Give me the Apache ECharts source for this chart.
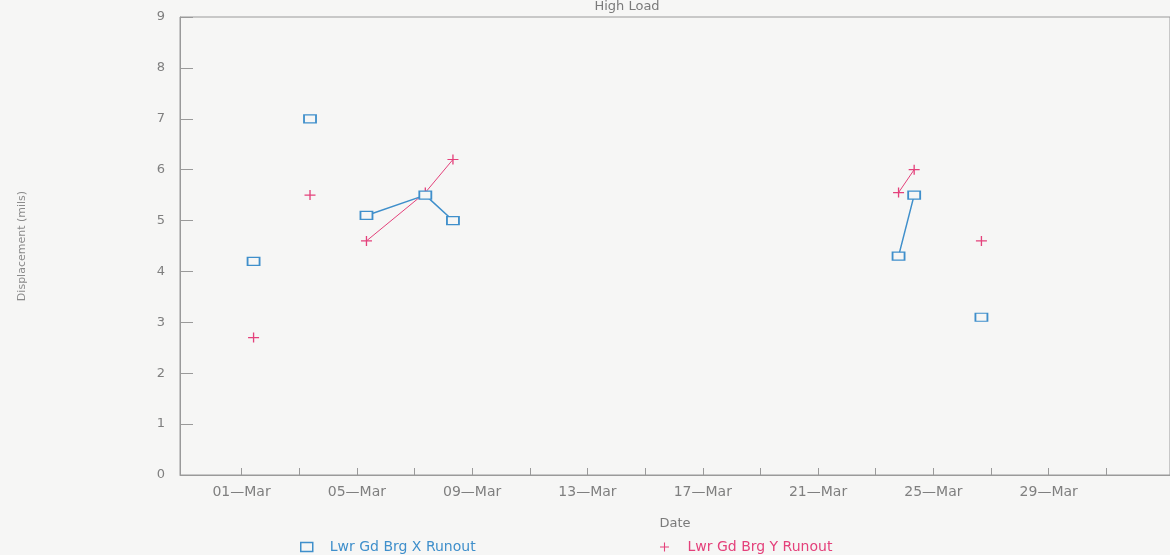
<!DOCTYPE html>
<html>
<head>
<meta charset="utf-8">
<script src="https://cdn.jsdelivr.net/npm/echarts@6/dist/echarts.min.js"></script>
<style>
html,body{margin:0;padding:0;background:#f6f6f5;}
#chart{width:1170px;height:555px;}
</style>
</head>
<body>
<div id="chart"></div>
<script>
// ---- data ----
const titleText = 'High Load';
const seriesNames = ['Lwr Gd Brg X Runout', 'Lwr Gd Brg Y Runout'];
const dates = ['2001-03-01T10:00', '2001-03-03T09:00', '2001-03-05T08:00', '2001-03-07T09:00',
               '2001-03-08T08:00', '2001-03-23T19:00', '2001-03-24T08:00', '2001-03-26T16:00'];
const xRunout = [4.2, 7.0, 5.1, 5.5, 5.0, 4.3, 5.5, 3.1];
const yRunout = [2.7, 5.5, 4.6, 5.55, 6.2, 5.55, 6.0, 4.6];
// points with the same segment id are joined by a line
const segment = [0, 1, 2, 2, 2, 3, 3, 4];
const tickDates = ['2001-03-01', '2001-03-03', '2001-03-05', '2001-03-07', '2001-03-09', '2001-03-11',
                   '2001-03-13', '2001-03-15', '2001-03-17', '2001-03-19', '2001-03-21', '2001-03-23',
                   '2001-03-25', '2001-03-27', '2001-03-29', '2001-03-31'];
const labelDates = ['2001-03-01', '2001-03-05', '2001-03-09', '2001-03-13', '2001-03-17',
                    '2001-03-21', '2001-03-25', '2001-03-29'];
const axisStart = '2001-02-26T20:45';
const axisEnd = '2001-04-02T05:00';
const monthNames = ['Jan','Feb','Mar','Apr','May','Jun','Jul','Aug','Sep','Oct','Nov','Dec'];

// dates -> day numbers (UTC based) for a linear day axis
const DAY = 86400000;
const toDay = s => Date.parse(s.length === 10 ? s + 'T00:00:00Z' : s + ':00Z') / DAY;
function build(vals) {
  const out = [];
  for (let i = 0; i < vals.length; i++) {
    if (i > 0 && segment[i] !== segment[i - 1]) {
      out.push([(toDay(dates[i]) + toDay(dates[i - 1])) / 2, '-']);
    }
    out.push([toDay(dates[i]), vals[i]]);
  }
  return out;
}
function fmtDay(v) {
  const d = new Date(Math.round(v * DAY));
  return String(d.getUTCDate()).padStart(2, '0') + '\u2014' + monthNames[d.getUTCMonth()];
}

const BLUE = '#3f8fcb';
const PINK = '#e4417b';
const BG = '#f6f6f5';
const AXIS = '#9a9a9a';
const FONT = 'DejaVu Sans';
const plusPath = 'path://M0,4.4H10V5.6H0Z M4.4,0H5.6V10H4.4Z';

const legendBase = {top: 535, itemWidth: 12, itemHeight: 9,
  textStyle: {fontFamily: FONT, fontSize: 14, padding: [0, 0, 0, 12]}};

const chart = echarts.init(document.getElementById('chart'), null, {renderer: 'canvas'});
chart.setOption({
  backgroundColor: BG,
  animation: false,
  title: {
    text: titleText, left: 622, top: -5, textAlign: 'center',
    textStyle: {color: '#7a7a7a', fontSize: 13, fontWeight: 'normal', fontFamily: FONT}
  },
  grid: {left: 180, top: 17, right: -3, bottom: 80, show: true, borderColor: AXIS, borderWidth: 1, backgroundColor: 'transparent'},
  legend: [
    Object.assign({left: 295, data: [{name: seriesNames[0], icon: 'rect',
      itemStyle: {color: BG, borderColor: BLUE, borderWidth: 1.5}, textStyle: {color: BLUE}}]}, legendBase),
    Object.assign({left: 655, data: [{name: seriesNames[1], icon: plusPath,
      itemStyle: {color: PINK, borderWidth: 0}, textStyle: {color: PINK}}]}, legendBase)
  ],
  xAxis: {
    type: 'value', min: toDay(axisStart), max: toDay(axisEnd),
    name: 'Date', nameLocation: 'middle', nameGap: 42,
    nameTextStyle: {color: '#7a7a7a', fontSize: 13, fontFamily: FONT},
    axisLine: {lineStyle: {color: AXIS, width: 1}},
    axisTick: {inside: true, length: 7, lineStyle: {color: AXIS}, customValues: tickDates.map(toDay)},
    axisLabel: {
      color: '#7f7f7f', fontSize: 14, fontFamily: FONT, margin: 10,
      customValues: labelDates.map(toDay),
      formatter: fmtDay
    },
    splitLine: {show: false}
  },
  yAxis: {
    type: 'value', min: 0, max: 9, interval: 1,
    name: 'Displacement (mils)', nameLocation: 'middle', nameGap: 152,
    nameTextStyle: {color: '#8a8a8a', fontSize: 11, fontFamily: FONT},
    axisLine: {show: true, lineStyle: {color: AXIS, width: 1}},
    axisTick: {show: true, inside: true, length: 13, lineStyle: {color: AXIS}},
    axisLabel: {color: '#7f7f7f', fontSize: 13, fontFamily: FONT, margin: 15},
    splitLine: {show: false}
  },
  series: [
    {
      name: seriesNames[0], type: 'line', data: build(xRunout), connectNulls: false,
      symbol: 'rect', symbolSize: [12, 8], showAllSymbol: true,
      lineStyle: {color: BLUE, width: 1.5},
      itemStyle: {color: BG, borderColor: BLUE, borderWidth: 1.5},
      z: 3
    },
    {
      name: seriesNames[1], type: 'line', data: build(yRunout), connectNulls: false,
      symbol: plusPath, symbolSize: [11, 10], showAllSymbol: true,
      lineStyle: {color: PINK, width: 1},
      itemStyle: {color: PINK, borderWidth: 0},
      z: 2
    }
  ]
});
</script>
</body>
</html>
